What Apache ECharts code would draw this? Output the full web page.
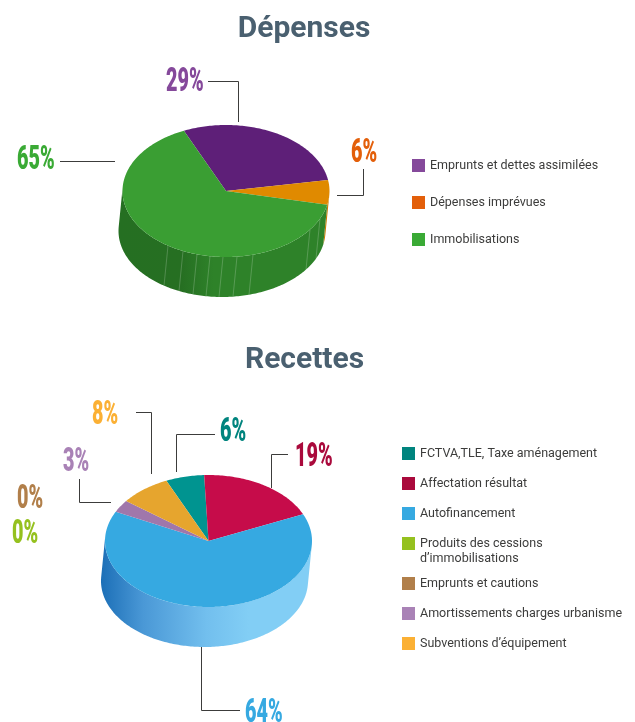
<!DOCTYPE html>
<html>
<head>
<meta charset="utf-8">
<title>Dépenses / Recettes</title>
<style>
	html, body { margin: 0; padding: 0; background: #fff; }
	#main { width: 635px; height: 722px; }
</style>
<script src="https://cdn.jsdelivr.net/npm/echarts@6/dist/echarts.min.js"></script>
</head>
<body>
<div id="main"></div>
<script>
//données
var depensesNames = ['Emprunts et dettes assimilées', 'Dépenses imprévues', 'Immobilisations'];
var depensesValues = [29, 6, 65];
var depensesLegendColors = ['#85499b', '#e35f0a', '#3aaa35'];
var depensesTopColors = ['#5e1f78', '#e08a00', '#3a9e33'];

var recettesNames = ['FCTVA,TLE, Taxe aménagement', 'Affectation résultat', 'Autofinancement', 'Produits des cessions', 'Emprunts et cautions', 'Amortissements charges urbanisme', 'Subventions d’équipement'];
var recettesValues = [6, 19, 64, 0, 0, 3, 8];
var recettesLegendColors = ['#00847e', '#aa0a3c', '#36a9e1', '#95c11f', '#b17f4a', '#a982b6', '#fbb034'];
var recettesTopColors = ['#009490', '#c60c4a', '#36a9e1', '#95c11f', '#b17f4a', '#a077ab', '#e6a52e'];
var produitsLine2 = 'd’immobilisations';

//géométrie des deux camemberts
var rx = 103.5, ry = 66, depthX = -4, depthY = 40;
var depensesPie = { cx: 226, cy: 191, startAngle: 114 };
var recettesPie = { cx: 208.5, cy: 541, startAngle: 114 };
//traits clairs sur le flanc vert (abscisses écran)
var seamXs = [168, 183, 197, 210, 223, 237, 253, 310, 320];

//dégradés des flancs
var greenSide = [
	{ offset: 0, color: '#256f22' },
	{ offset: 0.3, color: '#266f22' },
	{ offset: 0.45, color: '#2e8229' },
	{ offset: 1, color: '#2e8229' }
];
var blueSide = [
	{ offset: 0, color: '#1c6fb7' },
	{ offset: 0.2, color: '#4a98d6' },
	{ offset: 0.5, color: '#72bfee' },
	{ offset: 0.7, color: '#82cef5' },
	{ offset: 1, color: '#82cef5' }
];
var orangeSide = [
	{ offset: 0, color: '#c87a00' },
	{ offset: 1, color: '#c87a00' }
];

function pt(pie, t, ox, oy) {
	var a = t * Math.PI / 180;
	return [pie.cx + rx * Math.cos(a) + (ox || 0), pie.cy - ry * Math.sin(a) + (oy || 0)];
}

//angles décroissants : sens horaire à partir de startAngle
function sliceRange(pie, values, index) {
	var before = 0;
	for (var i = 0; i < index; i++) before += values[i];
	var a0 = pie.startAngle - before * 3.6;
	return [a0, a0 - values[index] * 3.6];
}

function topShape(pie, a0, a1) {
	var pts = [[pie.cx, pie.cy]];
	for (var t = a0; t > a1; t -= 1) pts.push(pt(pie, t));
	pts.push(pt(pie, a1));
	return pts;
}

//flanc visible : entre les deux tangentes de la silhouette
function sideShapes(pie, a0, a1) {
	var shapes = [];
	var silA = -183.6, silB = -3.6;
	for (var k = -1; k <= 1; k++) {
		var hi = Math.min(a0 + k * 360, silB);
		var lo = Math.max(a1 + k * 360, silA);
		if (hi <= lo) continue;
		var upper = [], lower = [];
		for (var t = hi; t > lo; t -= 1) {
			upper.push(pt(pie, t));
			lower.unshift(pt(pie, t, depthX, depthY));
		}
		upper.push(pt(pie, lo));
		lower.unshift(pt(pie, lo, depthX, depthY));
		shapes.push(upper.concat(lower));
	}
	return shapes;
}

function sideFill(pie, colorStops) {
	return {
		type: 'linear', global: true,
		x: pie.cx - rx + depthX, y: 0, x2: pie.cx + rx, y2: 0,
		colorStops: colorStops
	};
}

function inRange(a, range) {
	for (var k = -1; k <= 1; k++) {
		if (a + k * 360 <= range[0] && a + k * 360 >= range[1]) return true;
	}
	return false;
}

function makeSeries(names, values, legendColors, topColors, pie, sideColors, seams) {
	return names.map(function(name, index) {
		return {
			type: 'custom',
			name: name,
			coordinateSystem: 'none',
			silent: true,
			animation: false,
			itemStyle: { color: legendColors[index] },
			data: [[values[index]]],
			renderItem: function(params, api) {
				if (!api.value(0)) return null;
				var range = sliceRange(pie, values, index);
				var children = [];
				sideShapes(pie, range[0], range[1]).forEach(function(points) {
					children.push({
						type: 'polygon', z2: 1,
						shape: { points: points },
						style: { fill: sideFill(pie, sideColors[index]) }
					});
				});
				seams.forEach(function(x) {
					var a = -Math.acos((x - pie.cx) / rx) * 180 / Math.PI;
					if (!inRange(a, range)) return;
					var p = pt(pie, a), q = pt(pie, a, depthX, depthY);
					children.push({
						type: 'line', z2: 2,
						shape: { x1: p[0], y1: p[1], x2: q[0], y2: q[1] },
						style: { stroke: 'rgba(255,255,255,0.2)', lineWidth: 1 }
					});
				});
				children.push({
					type: 'polygon', z2: 3,
					shape: { points: topShape(pie, range[0], range[1]) },
					style: { fill: topColors[index] }
				});
				return { type: 'group', children: children };
			}
		};
	});
}

var depensesSeries = makeSeries(depensesNames, depensesValues, depensesLegendColors, depensesTopColors, depensesPie,
	[greenSide, orangeSide, greenSide], seamXs);
var recettesSeries = makeSeries(recettesNames, recettesValues, recettesLegendColors, recettesTopColors, recettesPie,
	[blueSide, blueSide, blueSide, blueSide, blueSide, blueSide, blueSide], []);

//étiquettes en pourcentage
function percentLabel(value, color, x, y) {
	return {
		type: 'text', x: x, y: y, scaleX: 0.6, z: 10,
		style: {
			text: value + '%', fill: color,
			font: '900 33px Roboto',
			textAlign: 'left', textVerticalAlign: 'middle'
		}
	};
}
function leader(points) {
	return {
		type: 'polyline', z: 9,
		shape: { points: points },
		style: { fill: null, stroke: '#3c3c3b', lineWidth: 1 }
	};
}

var legendText = { fontFamily: 'Roboto', fontSize: 12.5, color: '#3c3c3b', lineHeight: 15 };
function legendBlock(names, left, top, gap) {
	return {
		data: names, left: left, top: top, orient: 'vertical', padding: 0,
		itemWidth: 13, itemHeight: 13, itemGap: gap, selectedMode: false,
		icon: 'rect',
		textStyle: legendText,
		formatter: function(name) {
			return name === 'Produits des cessions' ? '\n' + name + '\n' + produitsLine2 : name;
		}
	};
}

var titleStyle = { fontFamily: 'Roboto', fontWeight: 'bold', fontSize: 30, color: '#4a6070' };
var chart = echarts.init(document.getElementById('main'));
chart.setOption({
	animation: false,
	title: [{
		text: 'Dépenses', left: 299, top: 9, textAlign: 'center',
		textStyle: titleStyle
	}, {
		text: 'Recettes', left: 299.5, top: 340, textAlign: 'center',
		textStyle: titleStyle
	}],
	legend: [
		legendBlock(depensesNames, 412, 158, 22),
		legendBlock(recettesNames.slice(0, 3), 402, 446, 15),
		legendBlock(recettesNames.slice(3, 4), 402, 521, 0),
		legendBlock(recettesNames.slice(4), 402, 576, 15)
	],
	series: depensesSeries.concat(recettesSeries),
	graphic: { elements: [
		percentLabel(depensesValues[0], depensesLegendColors[0], 166, 83),
		percentLabel(depensesValues[1], depensesLegendColors[1], 351, 154),
		percentLabel(depensesValues[2], depensesLegendColors[2], 17, 161),
		leader([[208, 81.5], [238.5, 81.5], [238.5, 122]]),
		leader([[60, 161.5], [115, 161.5]]),
		leader([[363.5, 169], [363.5, 195.5], [337, 195.5]]),
		percentLabel(recettesValues[0], recettesLegendColors[0], 220, 433),
		percentLabel(recettesValues[1], recettesLegendColors[1], 295, 458),
		percentLabel(recettesValues[2], recettesLegendColors[2], 245, 714),
		percentLabel(recettesValues[3], recettesLegendColors[3], 12, 535),
		percentLabel(recettesValues[4], recettesLegendColors[4], 17, 500),
		percentLabel(recettesValues[5], recettesLegendColors[5], 63, 463),
		percentLabel(recettesValues[6], recettesLegendColors[6], 92, 416),
		leader([[136, 412.5], [151.5, 412.5], [151.5, 474]]),
		leader([[215, 434.5], [176.5, 434.5], [176.5, 472]]),
		leader([[288, 454.5], [271.5, 454.5], [271.5, 488]]),
		leader([[79.5, 479], [79.5, 502.5], [111, 502.5]]),
		leader([[201.5, 647], [201.5, 710.5], [240, 710.5]])
	] }
});
</script>
</body>
</html>
